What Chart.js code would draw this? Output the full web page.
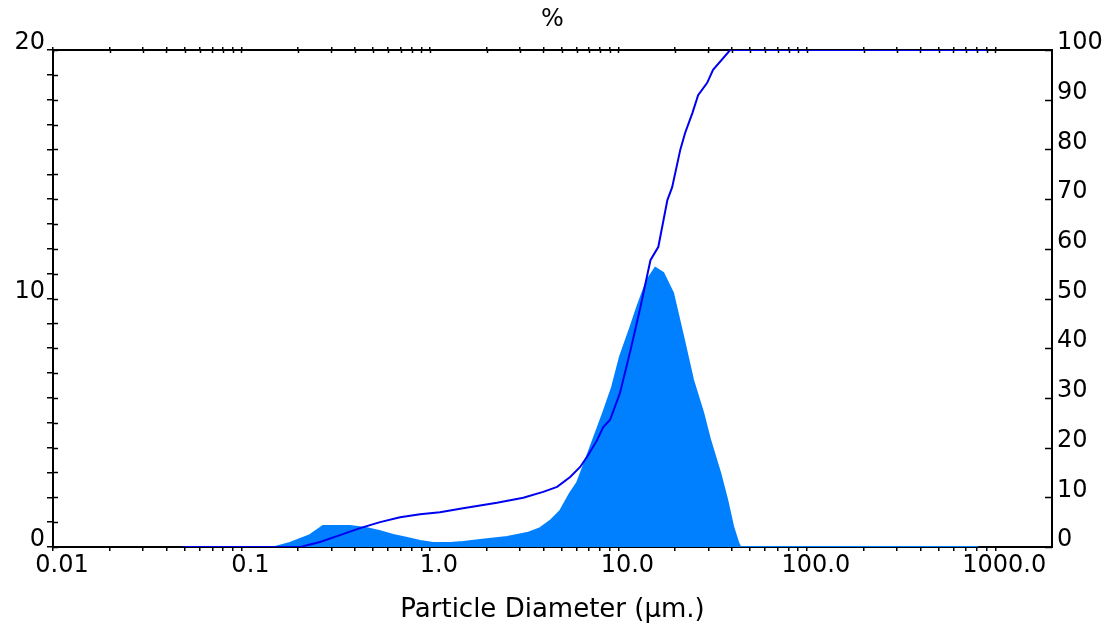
<!DOCTYPE html>
<html>
<head>
<meta charset="utf-8">
<script src="https://cdn.jsdelivr.net/npm/chart.js@4.4.1/dist/chart.umd.min.js"></script>
<style>
  html, body { margin: 0; padding: 0; background: #ffffff; }
  #wrap { width: 1113px; height: 631px; }
</style>
</head>
<body>
<div id="wrap"><canvas id="psd"></canvas></div>
<script>
// particle size distribution, volume % per channel (left axis)
const diameters = [0.151, 0.181, 0.231, 0.271, 0.377, 0.464, 0.544, 0.638, 0.757, 0.887,
  1.04, 1.28, 1.50, 1.85, 2.57, 3.28, 3.85, 4.35, 4.91, 5.55, 6.04, 6.50, 7.35, 8.30, 9.27,
  10.2, 11.6, 12.6, 14.2, 15.7, 17.3, 19.5, 22.1, 24.9, 28.2, 30.7, 34.7, 37.8, 40.7, 43.3, 44.3, 813];
const volume = [0, 0.16, 0.48, 0.85, 0.85, 0.76, 0.64, 0.48, 0.36, 0.24,
  0.16, 0.16, 0.20, 0.28, 0.40, 0.56, 0.76, 1.05, 1.45, 2.17, 2.58, 3.22, 4.31, 5.39, 6.44,
  7.65, 8.85, 9.66, 10.74, 11.23, 11.03, 10.22, 8.45, 6.72, 5.39, 4.3, 2.98, 1.89, 0.8, 0.16, 0, 0];

// cumulative undersize % (right axis)
const cumDiameters = [0.049, 0.205, 0.261, 0.333, 0.426, 0.544, 0.695, 0.887, 1.13, 1.50,
  2.27, 3.13, 3.99, 4.73, 5.55, 6.27, 6.92, 7.71, 8.30, 9.04, 10.2, 11.6, 13.1, 14.8, 16.3,
  18.2, 19.3, 21.3, 22.6, 24.7, 26.5, 29.6, 31.8, 39.2, 908];
const cumPercent = [0, 0, 1.0, 2.4, 3.8, 5.0, 6.0, 6.6, 7.0, 7.8,
  8.9, 9.9, 11.1, 12.1, 14.1, 16.1, 18.5, 21.5, 24.1, 25.6, 31.0, 39.6, 48.3, 57.7, 60.4,
  69.8, 72.4, 79.9, 83.3, 87.3, 90.9, 93.4, 96.0, 100, 100];

const decades = [0.01, 0.1, 1, 10, 100, 1000];
const decadeLabels = ["0.01", "0.1", "1.0", "10.0", "100.0", "1000.0"];
const leftLabels = [0, 10, 20];

const FONT = "DejaVu Sans";
const xMin = 0.01, xMax = 2000;

// 1..9 x each decade, up to 1000
const xTicks = [];
decades.forEach((d) => {
  for (let m = 1; m <= 9; m++) {
    if (d === 1000 && m > 1) break;
    xTicks.push(d * m);
  }
});

function decadeLabel(v) {
  const i = decades.findIndex((d) => Math.abs(d - v) / d < 1e-6);
  return i >= 0 ? decadeLabels[i] : "";
}

// short tick marks drawn toward the inside of the frame
const innerTicks = {
  id: "innerTicks",
  afterDraw(chart) {
    const ctx = chart.ctx;
    const s = chart.scales;
    const a = chart.chartArea;
    ctx.save();
    ctx.strokeStyle = "#000";
    ctx.lineWidth = 1.5;
    ctx.beginPath();
    s.y.ticks.forEach((t) => {
      const py = Math.round(s.y.getPixelForValue(t.value)) + 0.5;
      ctx.moveTo(a.left, py);
      ctx.lineTo(a.left + 5, py);
    });
    s.y2.ticks.forEach((t) => {
      const py = Math.round(s.y2.getPixelForValue(t.value)) + 0.5;
      ctx.moveTo(a.right, py);
      ctx.lineTo(a.right - 7, py);
    });
    s.x2.ticks.forEach((t) => {
      const px = Math.round(s.x2.getPixelForValue(t.value)) + 0.5;
      ctx.moveTo(px, a.top);
      ctx.lineTo(px, a.top + 3);
    });
    ctx.stroke();
    ctx.restore();
  },
};

const axisBorder = { display: true, color: "#000", width: 2 };

new Chart(document.getElementById("psd"), {
  type: "line",
  data: {
    datasets: [
      {
        label: "Cumulative",
        data: cumDiameters.map((x, i) => ({ x, y: cumPercent[i] })),
        yAxisID: "y2",
        borderColor: "#0000f0",
        borderWidth: 2,
        pointRadius: 0,
        tension: 0,
        fill: false,
        order: 0,
      },
      {
        label: "Volume",
        data: diameters.map((x, i) => ({ x, y: volume[i] })),
        yAxisID: "y",
        borderColor: "#0080ff",
        backgroundColor: "#0080ff",
        borderWidth: 2,
        pointRadius: 0,
        tension: 0,
        fill: "origin",
        order: 1,
      },
    ],
  },
  options: {
    responsive: true,
    maintainAspectRatio: false,
    animation: false,
    layout: { padding: 0 },
    plugins: {
      legend: { display: false },
      tooltip: { enabled: false },
      title: { display: false },
    },
    scales: {
      x: {
        type: "logarithmic",
        position: "bottom",
        min: xMin,
        max: xMax,
        afterBuildTicks: (scale) => {
          scale.ticks = xTicks.map((v) => ({ value: v }));
        },
        afterFit: (scale) => {
          scale.height = 84;
        },
        ticks: {
          autoSkip: false,
          maxRotation: 0,
          minRotation: 0,
          labelOffset: 9,
          padding: 0,
          color: "#000",
          font: { family: FONT, size: 24 },
          callback: (v) => decadeLabel(v),
        },
        grid: { drawOnChartArea: false, tickLength: 4, color: "#000", lineWidth: 1.5 },
        border: axisBorder,
        title: {
          display: true,
          text: "Particle Diameter (µm.)",
          color: "#000",
          font: { family: FONT, size: 26 },
          padding: { top: 0, bottom: 5 },
        },
      },
      x2: {
        type: "logarithmic",
        position: "top",
        min: xMin,
        max: xMax,
        afterBuildTicks: (scale) => {
          scale.ticks = xTicks.map((v) => ({ value: v }));
        },
        afterFit: (scale) => {
          scale.height = 50;
        },
        ticks: { autoSkip: false, maxRotation: 0, callback: () => "" },
        grid: { drawOnChartArea: false, tickLength: 3, color: "#000", lineWidth: 1.5 },
        border: axisBorder,
        title: {
          display: true,
          text: "%",
          color: "#000",
          font: { family: FONT, size: 24 },
          padding: { top: 5, bottom: 0 },
        },
      },
      y: {
        position: "left",
        min: 0,
        max: 20,
        afterFit: (scale) => {
          scale.width = 53;
        },
        ticks: {
          stepSize: 1,
          autoSkip: false,
          padding: 2,
          labelOffset: -7,
          color: "#000",
          font: { family: FONT, size: 24 },
          callback: (v) => (leftLabels.includes(v) ? String(v) : ""),
        },
        grid: { drawOnChartArea: false, tickLength: 6, color: "#000", lineWidth: 1.5 },
        border: axisBorder,
      },
      y2: {
        position: "right",
        min: 0,
        max: 100,
        afterFit: (scale) => {
          scale.width = 61;
        },
        ticks: {
          stepSize: 10,
          padding: 5,
          labelOffset: -7,
          color: "#000",
          font: { family: FONT, size: 24 },
        },
        grid: { drawOnChartArea: false, drawTicks: false, color: "#000" },
        border: axisBorder,
      },
    },
  },
  plugins: [innerTicks],
});
</script>
</body>
</html>
